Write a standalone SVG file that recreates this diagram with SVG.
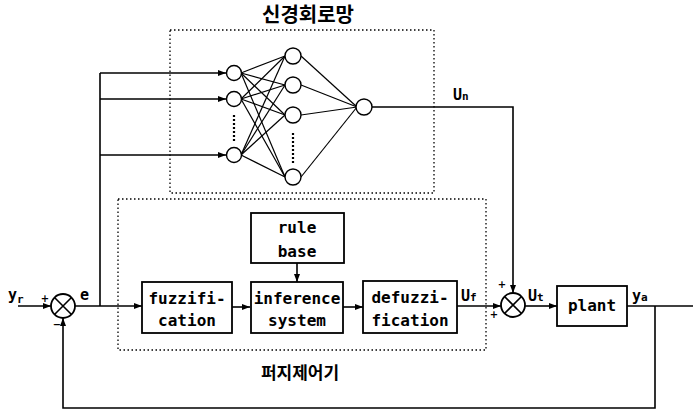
<svg xmlns="http://www.w3.org/2000/svg" width="693" height="413" viewBox="0 0 693 413">
<style>
.ln{stroke:#000;stroke-width:1.6;fill:none}
.thin{stroke:#000;stroke-width:1.2;fill:none}
.dot{stroke:#000;stroke-width:1.3;fill:none;stroke-dasharray:1.5 2.5}
.vdot{stroke:#000;stroke-width:2.2;fill:none;stroke-dasharray:2 2}
.box{stroke:#000;stroke-width:1.8;fill:#fff}
.nr{stroke:#000;stroke-width:1.4;fill:#fff}
.t{font-family:"DejaVu Sans Mono","Liberation Mono",monospace;font-size:16px;font-weight:bold;fill:#000;text-anchor:middle}
.lb{font-family:"DejaVu Sans Mono","Liberation Mono",monospace;font-size:15px;font-weight:bold;fill:#000}
.sub{font-size:11px}
.k{font-family:"Noto Sans CJK KR",sans-serif;font-weight:bold;fill:#000;text-anchor:middle}
.sg{font-family:"DejaVu Sans",sans-serif;font-size:10px;font-weight:bold;fill:#000;text-anchor:middle}
</style>
<defs>
<marker id="ar" viewBox="0 0 8 6" refX="8" refY="3" markerWidth="8" markerHeight="6" markerUnits="userSpaceOnUse" orient="auto">
<path d="M0,0 L8,3 L0,6 z" fill="#000"/>
</marker>
</defs>

<g id="nn-frame">
<rect class="dot" x="170" y="30" width="264" height="163"/>
<text class="k" x="308" y="22" font-size="20">신경회로망</text>
</g>
<g id="fuzzy-frame">
<rect class="dot" x="118" y="199" width="368" height="151"/>
<text class="k" x="300" y="379" font-size="17">퍼지제어기</text>
</g>

<g id="connectors">
<!-- NN internal weights -->
<g class="thin">
<line x1="241" y1="73" x2="285" y2="56"/><line x1="241" y1="73" x2="285" y2="85"/><line x1="241" y1="73" x2="285" y2="115"/><line x1="241" y1="73" x2="285" y2="177"/>
<line x1="241" y1="99" x2="285" y2="56"/><line x1="241" y1="99" x2="285" y2="85"/><line x1="241" y1="99" x2="285" y2="115"/><line x1="241" y1="99" x2="285" y2="177"/>
<line x1="241" y1="155" x2="285" y2="56"/><line x1="241" y1="155" x2="285" y2="85"/><line x1="241" y1="155" x2="285" y2="115"/><line x1="241" y1="155" x2="285" y2="177"/>
<line x1="301" y1="56" x2="357" y2="107"/><line x1="301" y1="85" x2="357" y2="107"/><line x1="301" y1="115" x2="357" y2="107"/><line x1="301" y1="177" x2="357" y2="107"/>
</g>
<line class="vdot" x1="234" y1="115" x2="234" y2="143"/>
<line class="vdot" x1="293" y1="133" x2="293" y2="165"/>
<!-- inputs to NN -->
<path class="ln" d="M100,306 V73"/>
<line class="ln" x1="100" y1="73" x2="226" y2="73" marker-end="url(#ar)"/>
<line class="ln" x1="100" y1="99" x2="226" y2="99" marker-end="url(#ar)"/>
<line class="ln" x1="100" y1="155" x2="226" y2="155" marker-end="url(#ar)"/>
<!-- NN output -->
<path class="ln" d="M372,107 H513 V293" marker-end="url(#ar)"/>
<!-- reference in -->
<line class="ln" x1="18" y1="306" x2="51" y2="306" marker-end="url(#ar)"/>
<!-- e -->
<line class="ln" x1="75" y1="306" x2="142" y2="306" marker-end="url(#ar)"/>
<line class="ln" x1="232" y1="307" x2="250" y2="307" marker-end="url(#ar)"/>
<line class="ln" x1="297" y1="263" x2="297" y2="282" marker-end="url(#ar)"/>
<line class="ln" x1="343" y1="307" x2="363" y2="307" marker-end="url(#ar)"/>
<line class="ln" x1="457" y1="306" x2="501" y2="306" marker-end="url(#ar)"/>
<line class="ln" x1="525" y1="306" x2="557" y2="306" marker-end="url(#ar)"/>
<line class="ln" x1="627" y1="306" x2="693" y2="306"/>
<path class="ln" d="M655,306 V408 H63 V318" marker-end="url(#ar)"/>
</g>

<g id="nn-input">
<circle class="nr" cx="234" cy="73" r="7.5"/>
<circle class="nr" cx="234" cy="99" r="7.5"/>
<circle class="nr" cx="234" cy="155" r="7.5"/>
</g>
<g id="nn-hidden">
<circle class="nr" cx="293" cy="56" r="8"/>
<circle class="nr" cx="293" cy="85" r="8"/>
<circle class="nr" cx="293" cy="115" r="8"/>
<circle class="nr" cx="293" cy="177" r="8"/>
</g>
<g id="nn-output">
<circle class="nr" cx="364" cy="107" r="8"/>
</g>

<g id="sum1">
<circle class="box" cx="63" cy="306" r="12"/>
<path class="ln" d="M54.5,297.5 L71.5,314.5 M71.5,297.5 L54.5,314.5"/>
</g>
<g id="sum2">
<circle class="box" cx="513" cy="305" r="12"/>
<path class="ln" d="M504.5,296.5 L521.5,313.5 M521.5,296.5 L504.5,313.5"/>
</g>

<g id="fuzzification">
<rect class="box" x="142" y="282" width="90" height="51"/>
<text class="t" x="187" y="304">fuzzifi-</text>
<text class="t" x="187" y="326">cation</text>
</g>
<g id="rulebase">
<rect class="box" x="251" y="213" width="93" height="50"/>
<text class="t" x="297" y="233">rule</text>
<text class="t" x="297" y="257">base</text>
</g>
<g id="inference">
<rect class="box" x="251" y="282" width="92" height="51"/>
<text class="t" x="297" y="304">inference</text>
<text class="t" x="297" y="326">system</text>
</g>
<g id="defuzzification">
<rect class="box" x="363" y="281" width="94" height="52"/>
<text class="t" x="410" y="303">defuzzi-</text>
<text class="t" x="410" y="326">fication</text>
</g>
<g id="plant">
<rect class="box" x="557" y="286" width="70" height="40"/>
<text class="t" x="592" y="311">plant</text>
</g>

<g id="labels">
<text class="lb" x="8" y="300">y<tspan class="sub" dy="3">r</tspan></text>
<text class="sg" x="45" y="302">+</text>
<text class="sg" x="57" y="328">−</text>
<text class="lb" x="80" y="300">e</text>
<text class="lb" x="453" y="100">U<tspan class="sub">n</tspan></text>
<text class="lb" x="461" y="301">U<tspan class="sub">f</tspan></text>
<text class="sg" x="502" y="288">+</text>
<text class="sg" x="494" y="318">+</text>
<text class="lb" x="528" y="301">U<tspan class="sub">t</tspan></text>
<text class="lb" x="632" y="301">y<tspan class="sub">a</tspan></text>
</g>
</svg>
